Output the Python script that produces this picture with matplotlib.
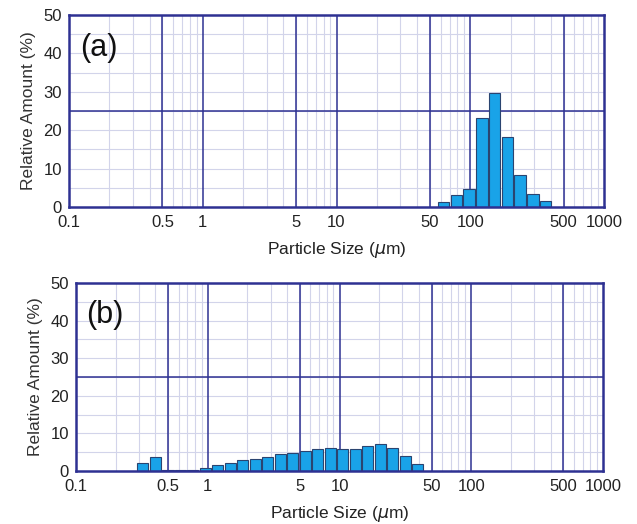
import numpy as np
import matplotlib
matplotlib.use("Agg")
import matplotlib.pyplot as plt

plt.rcParams['font.family'] = ['Liberation Sans', 'DejaVu Sans']

# data
size_a = [63, 79, 98, 122, 152, 190, 236, 294, 366]
amount_a = [1.4, 3.1, 4.8, 23.3, 29.8, 18.2, 8.3, 3.5, 1.5]

size_b = [0.32, 0.40, 0.50, 0.62, 0.77, 0.96, 1.19, 1.48, 1.84, 2.29, 2.85, 3.55,
          4.41, 5.49, 6.83, 8.5, 10.57, 13.15, 16.36, 20.35, 25.3, 31.5, 39.2]
amount_b = [2.1, 3.6, 0.25, 0.25, 0.25, 0.7, 1.5, 2.2, 2.8, 3.3, 3.8, 4.4,
            4.9, 5.4, 5.9, 6.2, 5.9, 5.9, 6.6, 7.1, 6.0, 4.1, 1.8]

xticks = [0.1, 0.5, 1, 5, 10, 50, 100, 500, 1000]
xticklabels = ['0.1', '0.5', '1', '5', '10', '50', '100', '500', '1000']
major_x = [0.5, 1, 5, 10, 50, 100, 500]
minor_x = [m * 10.0 ** d for d in range(-1, 3) for m in range(2, 10)]

navy = '#2e3192'
light = '#d2d4ea'
bar_c = '#19a3e8'
edge_c = '#2a4470'

fig = plt.figure(figsize=(6.37, 5.24), dpi=100)
W, H = 637, 524
ax_a = fig.add_axes([69 / W, 1 - 207 / H, (604 - 69) / W, (207 - 15) / H])
ax_b = fig.add_axes([76 / W, 1 - 471 / H, (603 - 76) / W, (471 - 283) / H])


def draw(ax, sizes, amounts, tag):
    logc = np.log10(sizes)
    step = np.median(np.diff(logc))
    left = 10 ** (logc - 0.45 * step)
    right = 10 ** (logc + 0.45 * step)
    ax.set_xscale('log')
    ax.set_xlim(0.1, 1000)
    ax.set_ylim(0, 50)
    # light grid
    for x in minor_x:
        ax.axvline(x, color=light, lw=0.8, zorder=0)
    for y in range(5, 50, 5):
        ax.axhline(y, color=light, lw=0.8, zorder=0)
    # dark grid
    for x in major_x:
        ax.axvline(x, color=navy, lw=1.1, zorder=1)
    ax.axhline(25, color=navy, lw=1.1, zorder=1)
    ax.bar(left, np.array(amounts), width=right - left, align='edge',
           color=bar_c, edgecolor=edge_c, linewidth=0.8, zorder=2)
    ax.set_xticks(xticks)
    ax.set_xticklabels(xticklabels)
    ax.xaxis.set_minor_locator(matplotlib.ticker.NullLocator())
    ax.set_yticks([0, 10, 20, 30, 40, 50])
    ax.tick_params(length=0, labelsize=12, colors='#222222')
    ax.tick_params(axis='x', pad=6)
    ax.tick_params(axis='y', pad=5)
    for s in ax.spines.values():
        s.set_color(navy)
        s.set_linewidth(1.8)
        s.set_zorder(3)
    ax.set_xlabel('Particle Size ($\\mu$m)', fontsize=12.5, color='#222222', labelpad=7)
    ax.set_ylabel('Relative Amount (%)', fontsize=12.5, color='#333333', labelpad=5)
    ax.text(0.02, 0.83, tag, transform=ax.transAxes, fontsize=22, color='#111111',
            va='center', ha='left')


draw(ax_a, size_a, amount_a, '(a)')
draw(ax_b, size_b, amount_b, '(b)')

plt.savefig('out.png', dpi=100)
